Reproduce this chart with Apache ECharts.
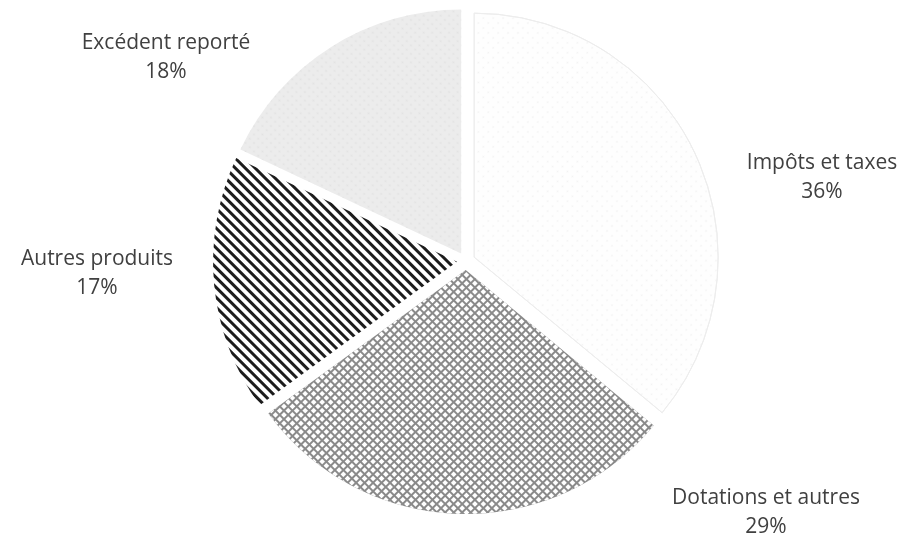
<!DOCTYPE html>
<html>
<head>
<meta charset="utf-8">
<script src="https://cdn.jsdelivr.net/npm/echarts@6/dist/echarts.min.js"></script>
<style>
html,body{margin:0;padding:0;background:#fff;}
#c{width:919px;height:542px;}
</style>
</head>
<body>
<div id="c"></div>
<script>
const categories = ["Impôts et taxes", "Dotations et autres", "Autres produits", "Excédent reporté"];
const values = [36, 29, 17, 18];
const percentLabels = ["36%", "29%", "17%", "18%"];

const styles = [
  { color: '#fefefe', borderColor: '#ededed', borderWidth: 1,
    decal: { symbol: 'circle', symbolSize: 0.6, dashArrayX: [3, 4], dashArrayY: [3, 4], color: '#f2f2f2', rotation: Math.PI / 4 } },
  { color: '#8a8a8a', borderWidth: 0,
    decal: { symbol: 'rect', symbolSize: 1, dashArrayX: [4, 1.6], dashArrayY: [4, 1.6], color: '#ffffff', rotation: Math.PI / 4 } },
  { color: '#ffffff', borderWidth: 0,
    decal: { symbol: 'rect', symbolSize: 1, dashArrayX: [1, 0], dashArrayY: [2.2, 3.6], color: '#1c1c1c', rotation: Math.PI / 4 } },
  { color: '#ececec', borderWidth: 0,
    decal: { symbol: 'circle', symbolSize: 0.7, dashArrayX: [3, 3], dashArrayY: [3, 3], color: '#e2e2e2', rotation: Math.PI / 4 } }
];
// label anchor positions (centre of the two-line label block)
const labelPos = [[822, 178], [766, 513], [97, 274], [166, 58]];

const chart = echarts.init(document.getElementById('c'), null, { renderer: 'canvas' });
chart.setOption({
  animation: false,
  backgroundColor: '#ffffff',
  graphic: categories.map((n, i) => ({
    type: 'text',
    x: labelPos[i][0],
    y: labelPos[i][1],
    silent: true,
    style: {
      text: n + '\n' + percentLabels[i],
      fontFamily: 'Open Sans',
      fontSize: 21,
      lineHeight: 29,
      fill: '#404040',
      align: 'center',
      verticalAlign: 'middle'
    }
  })),
  series: [{
    type: 'pie',
    center: [466, 261],
    radius: 244,
    startAngle: 90,
    clockwise: true,
    selectedMode: 'multiple',
    selectedOffset: 9,
    label: { show: false },
    labelLine: { show: false },
    data: categories.map((n, i) => ({
      name: n,
      value: values[i],
      selected: true,
      itemStyle: styles[i],
      select: { itemStyle: { borderColor: styles[i].borderColor || 'transparent', borderWidth: styles[i].borderWidth } }
    }))
  }]
});
</script>
</body>
</html>
